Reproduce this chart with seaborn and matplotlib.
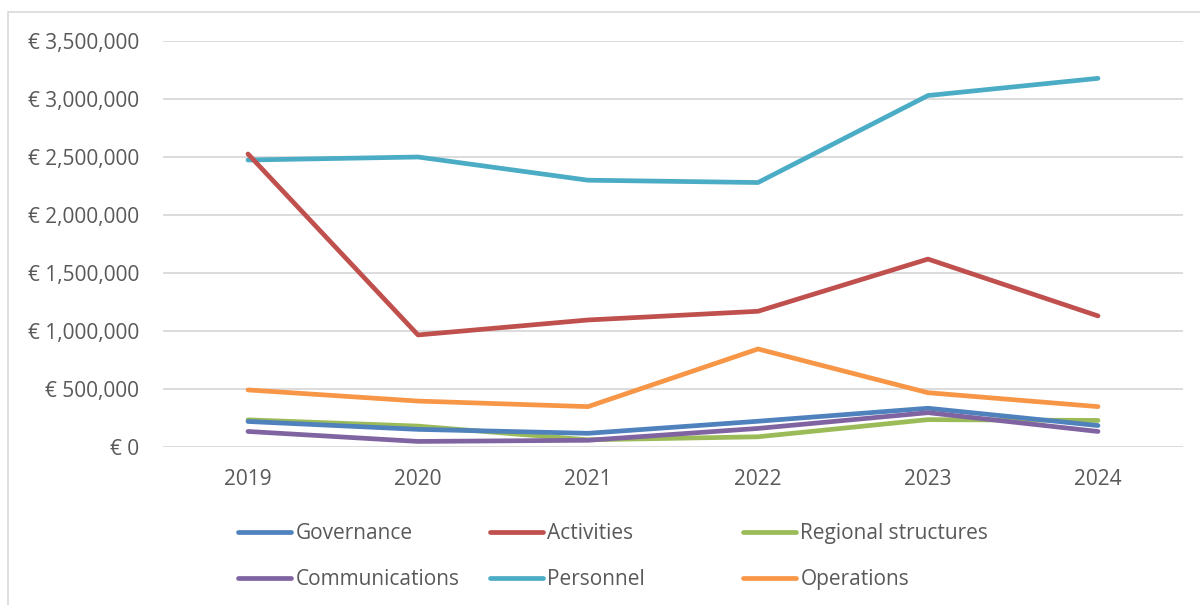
import matplotlib
matplotlib.use("Agg")
import matplotlib.pyplot as plt
from matplotlib.lines import Line2D
from matplotlib.patches import Rectangle
from matplotlib.ticker import FuncFormatter, MultipleLocator
import seaborn as sns
import pandas as pd

years = ["2019", "2020", "2021", "2022", "2023", "2024"]
governance = [220000, 152000, 118000, 222000, 334000, 185000]
activities = [2526000, 966000, 1095000, 1170000, 1620000, 1130000]
regional_structures = [234000, 180000, 62000, 88000, 236000, 229000]
communications = [134000, 48000, 58000, 160000, 296000, 134000]
personnel = [2474000, 2500000, 2300000, 2280000, 3030000, 3178000]
operations = [492000, 396000, 348000, 845000, 468000, 348000]

series_names = ["Governance", "Activities", "Regional structures",
                "Communications", "Personnel", "Operations"]
series_values = [governance, activities, regional_structures,
                 communications, personnel, operations]
colors = ["#4F81BD", "#C0504D", "#9BBB59", "#8064A2", "#4BACC6", "#F79646"]
palette = dict(zip(series_names, colors))

rows = []
for name, vals in zip(series_names, series_values):
    for i, (yr, v) in enumerate(zip(years, vals)):
        rows.append({"pos": i, "year": yr, "series": name, "value": v})
df = pd.DataFrame(rows)

sns.set_style("white")
plt.rcParams["font.family"] = ["Open Sans", "DejaVu Sans"]
text_color = "#595959"
font_size = 15

fig = plt.figure(figsize=(12, 6.05), dpi=100)
ax = fig.add_axes([163 / 1200, 1 - 447 / 605, 1020 / 1200, 406 / 605])

# outer chart frame
fig.patches.append(Rectangle((8 / 1200, -0.1), 1.2, 1 - 12 / 605 + 0.1,
                             transform=fig.transFigure, fill=False,
                             edgecolor="#D9D9D9", linewidth=1.2, zorder=0))

# draw the Personnel line first so Activities sits over it at 2019
draw_order = ["Personnel", "Operations", "Regional structures", "Governance",
              "Communications", "Activities"]
sns.lineplot(data=df, x="pos", y="value", hue="series", hue_order=draw_order,
             palette=palette, linewidth=3.4, ax=ax, legend=False,
             solid_capstyle="round", solid_joinstyle="round", sort=False)

ax.set_xlim(-0.5, 5.5)
ax.set_ylim(0, 3500000)
ax.yaxis.set_major_locator(MultipleLocator(500000))
ax.yaxis.set_major_formatter(FuncFormatter(lambda v, p: "€ {:,.0f}".format(v)))
ax.set_xticks(range(len(years)))
ax.set_xticklabels(years)
ax.grid(axis="y", color="#D9D9D9", linewidth=1.3)
ax.set_axisbelow(True)
for s in ax.spines.values():
    s.set_visible(False)
ax.tick_params(axis="y", length=0, pad=17, labelsize=font_size, labelcolor=text_color)
ax.tick_params(axis="x", length=0, pad=16, labelsize=font_size, labelcolor=text_color)
ax.set_xlabel("")
ax.set_ylabel("")

# legend laid out in three equal-width columns
columns = [("Governance", "Communications"),
           ("Activities", "Personnel"),
           ("Regional structures", "Operations")]
col_x = [238 / 1200, 490 / 1200, 743 / 1200]
for cx, names in zip(col_x, columns):
    handles = [Line2D([0], [0], color=palette[n], linewidth=3.4,
                      solid_capstyle="round") for n in names]
    fig.legend(handles, names, loc="upper left",
               bbox_to_anchor=(cx, 1 - 523 / 605), frameon=False,
               fontsize=font_size, handlelength=2.55, handletextpad=0.2,
               labelspacing=1.22, borderpad=0, borderaxespad=0,
               labelcolor=text_color)

fig.savefig("out.png", dpi=100, facecolor="white")
